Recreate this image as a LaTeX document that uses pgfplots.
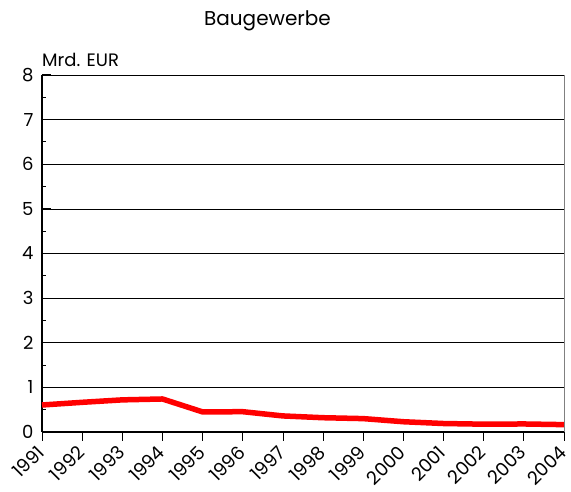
\documentclass[border=0pt]{standalone}
\usepackage{fontspec}
\setmainfont{Poppins}
\usepackage{pgfplots}
\pgfplotsset{compat=1.18}
\begin{document}
\begin{tikzpicture}
\begin{axis}[
  at={(0,0)}, anchor=origin,
  width=522pt, height=357pt, scale only axis,
  xmin=1991, xmax=2004, ymin=0, ymax=8,
  xtick={1991,...,2004}, ytick={0,...,8},
  xticklabels={},
  minor y tick num=1,
  yticklabel style={font=\fontsize{18}{21}\selectfont, xshift=-5pt},
  /pgf/number format/assume math mode=true,
  /pgf/number format/1000 sep={},
  axis x line*=bottom, axis y line*=left,
  axis line style={black, line width=1.2pt, -},
  ymajorgrids, major grid style={black, line width=0.7pt},
  x tick style={black, line width=0.8pt},
  y tick style={black, line width=1pt},
  major tick length=9pt, minor tick length=4pt,
  xtick pos=bottom, xtick align=outside,
  ytick pos=left, ytick align=inside,
  tick label style={black},
  clip=false,
]
\addplot[red, line width=5.5pt, line join=round] coordinates {
(1991,0.605) (1992,0.665) (1993,0.72) (1994,0.74) (1995,0.45) (1996,0.455)
(1997,0.36) (1998,0.32) (1999,0.30) (2000,0.23) (2001,0.19) (2002,0.175)
(2003,0.18) (2004,0.165)};
\draw[gray, line width=0.8pt] (rel axis cs:1,0) -- (rel axis cs:1,1);
\pgfplotsinvokeforeach{1991,...,2004}{
  \node[rotate=45, anchor=north east, inner sep=0pt, font=\fontsize{18.5}{21}\selectfont] at ([xshift=-6pt,yshift=-12pt]axis cs:#1,0) {#1};
}
\node[anchor=base west, font=\fontsize{18}{21}\selectfont, inner sep=0pt] at ([yshift=8pt]rel axis cs:0,1) {Mrd. EUR};
\node[anchor=base, font=\fontsize{20}{24}\selectfont, inner sep=0pt] at ([yshift=49pt]rel axis cs:0.432,1) {Baugewerbe};
\end{axis}
\pgfresetboundingbox
\path[use as bounding box] (-42pt,-60pt) rectangle (529pt,432pt);
\end{tikzpicture}
\end{document}
